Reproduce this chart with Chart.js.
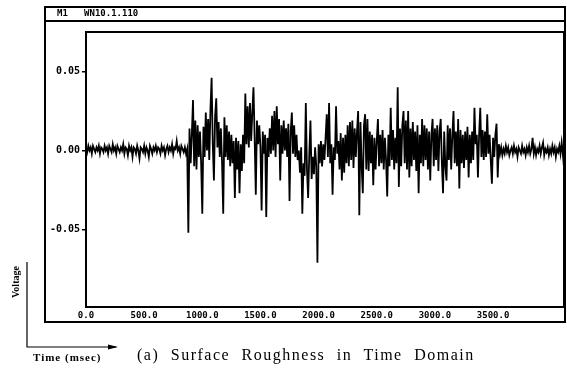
<!DOCTYPE html>
<html>
<head>
<meta charset="utf-8">
<script src="https://cdn.jsdelivr.net/npm/chart.js@4.4.0/dist/chart.umd.min.js"></script>
<style>
    html, body { margin: 0; padding: 0; background: #fff; }
    #wrap { position: relative; width: 567px; height: 371px; overflow: hidden; background: #fff; }
    #roughnessChart { position: absolute; left: 0; top: 0; }
    .txt { position: absolute; color: #000; white-space: nowrap; }
    #header { left: 57px; top: 8px; font: bold 9px "DejaVu Sans Mono", monospace; }
    #yTitle { left: 15px; top: 282px; font: bold 10px "Liberation Serif", serif; transform: translate(-50%, -50%) rotate(-90deg); }
    #xTitle { left: 33px; top: 351px; font: bold 11px "Liberation Serif", serif; letter-spacing: 1px; }
    #caption { left: 137px; top: 346px; font: 16px "Liberation Serif", serif; letter-spacing: 1.5px; word-spacing: 6px; }
</style>
</head>
<body>
<div id="wrap">
    <canvas id="roughnessChart" width="567" height="371"></canvas>
    <div class="txt" id="header">M1&nbsp;&nbsp;&nbsp;WN10.1.110</div>
    <div class="txt" id="yTitle">Voltage</div>
    <div class="txt" id="xTitle">Time (msec)</div>
    <div class="txt" id="caption">(a) Surface Roughness in Time Domain</div>
</div>
<script>
// thời gian lấy mẫu (ms)
var sampleStepMs = 10;

// 0 - 870 ms: đoạn yên tĩnh trước khi chạm bề mặt
var quietStartVolts = [
    0.002, -0.001, 0.003, 0.000, 0.002, -0.002, 0.003, 0.001, -0.001, 0.002,
    0.000, 0.003, -0.002, 0.002, 0.001, -0.001, 0.003, 0.000, 0.002, -0.002,
    0.003, 0.001, -0.001, 0.004, 0.000, 0.002, -0.002, 0.003, 0.001, -0.001,
    0.002, 0.000, 0.004, -0.002, 0.002, 0.001, -0.003, 0.003, 0.000, 0.002,
    -0.004, 0.002, 0.001, -0.002, 0.003, 0.000, -0.005, 0.002, 0.001, -0.001,
    0.003, -0.002, 0.002, 0.000, -0.004, 0.003, 0.001, -0.002, 0.002, 0.000,
    0.003, -0.001, 0.002, 0.001, -0.002, 0.003, 0.000, 0.002, -0.003, 0.001,
    0.003, -0.001, 0.002, 0.000, 0.004, -0.002, 0.002, 0.001, 0.006, 0.000,
    0.002, -0.002, 0.003, 0.001, -0.001, 0.002, -0.002, 0.001
];

// 880 - 3560 ms: vùng nhám
var burstVolts = [
    -0.052, 0.014, -0.008, 0.010, 0.032, -0.010, 0.019, -0.012, 0.016, -0.004,
    0.012, -0.008, -0.040, 0.015, -0.004, 0.024, 0.000, 0.020, -0.006, 0.026,
    0.046, 0.004, -0.019, 0.022, 0.033, 0.002, 0.018, -0.004, 0.014, -0.008,
    -0.040, 0.021, -0.004, 0.016, -0.006, 0.012, -0.010, 0.010, -0.008, 0.006,
    -0.030, 0.008, -0.012, 0.006, -0.027, 0.004, -0.013, 0.010, -0.008, 0.036,
    0.004, 0.028, 0.002, 0.030, 0.006, 0.024, 0.040, 0.008, -0.028, 0.019,
    0.004, 0.016, 0.002, -0.038, 0.012, -0.002, 0.010, -0.042, 0.008, -0.004,
    0.014, -0.002, 0.022, 0.000, 0.025, -0.004, 0.028, 0.004, 0.020, -0.019,
    0.016, -0.002, 0.019, 0.000, 0.014, -0.004, 0.017, -0.032, 0.012, 0.024,
    -0.002, 0.016, -0.004, 0.010, -0.006, 0.000, -0.014, 0.002, -0.040, -0.008,
    -0.016, 0.030, -0.012, -0.030, -0.002, 0.019, -0.018, -0.004, -0.015, 0.002,
    -0.010, -0.071, 0.004, -0.008, 0.006, -0.010, 0.004, -0.006, 0.008, 0.023,
    -0.004, 0.030, -0.008, 0.004, -0.028, 0.002, -0.006, 0.028, -0.002, 0.006,
    -0.012, 0.011, -0.019, 0.008, -0.014, 0.010, -0.008, 0.016, -0.010, 0.018,
    -0.006, 0.019, -0.011, 0.014, -0.004, 0.012, 0.025, -0.041, 0.018, -0.010,
    -0.027, 0.016, 0.023, -0.012, 0.020, -0.013, 0.012, -0.008, 0.010, -0.022,
    0.008, -0.012, 0.006, 0.020, -0.010, 0.010, -0.008, 0.013, -0.012, 0.008,
    -0.006, -0.029, 0.010, -0.010, 0.027, -0.006, 0.013, -0.012, 0.008, -0.008,
    0.040, -0.023, 0.014, -0.010, 0.016, 0.025, -0.008, 0.019, -0.012, 0.025,
    -0.017, 0.014, -0.010, 0.018, -0.006, 0.012, -0.013, 0.016, -0.027, 0.010,
    -0.008, 0.020, -0.010, 0.016, -0.006, 0.014, -0.012, 0.012, -0.019, 0.010,
    0.020, -0.010, 0.014, -0.006, 0.016, -0.013, 0.012, 0.020, -0.008, -0.027,
    0.012, -0.010, -0.019, 0.016, -0.006, 0.014, -0.012, 0.010, 0.025, -0.008,
    0.012, -0.010, 0.020, -0.024, 0.013, -0.008, 0.010, -0.011, 0.012, -0.006,
    0.015, -0.017, 0.010, -0.008, 0.012, -0.006, 0.027, 0.004, 0.010, -0.017,
    0.010, 0.027, -0.004, 0.013, -0.006, 0.012, -0.004, 0.023, -0.002, 0.010,
    -0.006, -0.021, 0.008, -0.004, 0.010, 0.017, -0.017, 0.004, -0.002
];

// 3570 - 4110 ms: đoạn yên tĩnh sau
var quietEndVolts = [
    0.002, -0.003, 0.001, -0.002, 0.003, -0.001, 0.002, -0.003, 0.000, 0.002,
    -0.002, 0.003, -0.001, 0.001, -0.004, 0.002, 0.000, -0.002, 0.003, -0.001,
    0.001, -0.003, 0.002, -0.001, 0.003, -0.002, 0.001, 0.008, -0.002, 0.002,
    -0.003, 0.001, -0.001, 0.003, -0.002, 0.002, 0.005, -0.003, 0.001, -0.001,
    0.002, -0.003, 0.001, -0.002, 0.003, -0.001, 0.002, -0.004, 0.001, -0.001,
    0.003, -0.002, 0.005, -0.002, -0.011
];

var xTickValues = [0, 500, 1000, 1500, 2000, 2500, 3000, 3500];
var yTickValues = [-0.05, 0, 0.05];

var volts = quietStartVolts.concat(burstVolts, quietEndVolts);
var points = volts.map((v, i) => ({ x: i * sampleStepMs, y: v }));

// khung ngoài, khung vùng vẽ và mũi tên trục
var framePlugin = {
    id: 'frame',
    afterDraw: function (chart) {
        var ctx = chart.ctx;
        var a = chart.chartArea;
        ctx.save();
        ctx.strokeStyle = '#000';
        ctx.lineWidth = 2;
        ctx.strokeRect(45, 7, 520, 315);
        ctx.beginPath();
        ctx.moveTo(45, 21);
        ctx.lineTo(565, 21);
        ctx.stroke();
        ctx.strokeRect(a.left, a.top, a.right - a.left, a.bottom - a.top);

        ctx.lineWidth = 1.2;
        ctx.beginPath();
        ctx.moveTo(27, 262);
        ctx.lineTo(27, 347);
        ctx.lineTo(116, 347);
        ctx.stroke();
        ctx.beginPath();
        ctx.moveTo(118, 347);
        ctx.lineTo(108, 344.5);
        ctx.lineTo(108, 349.5);
        ctx.closePath();
        ctx.fillStyle = '#000';
        ctx.fill();
        ctx.restore();
    }
};

var ctx = document.getElementById('roughnessChart').getContext('2d');
var roughnessChart = new Chart(ctx, {
    type: 'line',
    data: {
        datasets: [{
            data: points,
            borderColor: '#000',
            borderWidth: 1.8,
            pointRadius: 0,
            tension: 0,
            fill: false
        }]
    },
    options: {
        responsive: false,
        animation: false,
        devicePixelRatio: 1,
        layout: { padding: { left: 0, top: 32, right: 3, bottom: 49 } },
        plugins: {
            legend: { display: false },
            tooltip: { enabled: false }
        },
        scales: {
            x: {
                type: 'linear',
                min: 0,
                max: 4110,
                afterBuildTicks: function (scale) {
                    scale.ticks = xTickValues.map(v => ({ value: v }));
                },
                afterFit: function (scale) { scale.height = 15; },
                grid: { display: false, drawTicks: false },
                border: { display: false },
                ticks: {
                    autoSkip: false,
                    maxRotation: 0,
                    padding: 3,
                    color: '#000',
                    font: { family: 'DejaVu Sans Mono', size: 9, weight: 'bold' },
                    callback: function (value) { return value.toFixed(1); }
                }
            },
            y: {
                min: -0.099,
                max: 0.075,
                afterBuildTicks: function (scale) {
                    scale.ticks = yTickValues.map(v => ({ value: v }));
                },
                afterFit: function (scale) { scale.width = 86; },
                grid: { drawOnChartArea: false, drawTicks: true, tickLength: 4, color: '#000', lineWidth: 1.5 },
                border: { display: false },
                ticks: {
                    padding: 2,
                    color: '#000',
                    font: { family: 'DejaVu Sans Mono', size: 10, weight: 'bold' },
                    callback: function (value) { return value.toFixed(2); }
                }
            }
        }
    },
    plugins: [framePlugin]
});
</script>
</body>
</html>
